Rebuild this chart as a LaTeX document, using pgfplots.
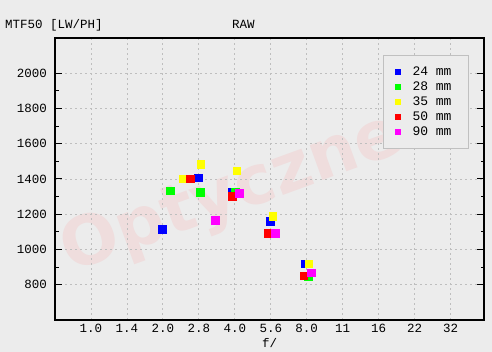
\documentclass[border=0pt]{standalone}
\usepackage{fontspec}
\setmainfont{Liberation Mono}
\newfontfamily\wm{DejaVu Sans}
\usepackage{pgfplots}
\pgfplotsset{compat=1.18}
\definecolor{bg}{RGB}{236,236,236}
\definecolor{wmc}{RGB}{239,221,221}
\definecolor{gridc}{RGB}{190,190,190}
\definecolor{legc}{RGB}{192,192,192}
\definecolor{cblue}{RGB}{0,0,255}
\definecolor{cgreen}{RGB}{0,255,0}
\definecolor{cyellow}{RGB}{255,255,0}
\definecolor{cred}{RGB}{255,0,0}
\definecolor{cmag}{RGB}{255,0,255}
\begin{document}
\begin{tikzpicture}[x=1pt,y=1pt]
\path[use as bounding box, fill=bg] (0,0) rectangle (492,352);
\node[rotate=20, text=wmc, font=\wm\bfseries\fontsize{68}{68}\selectfont] at (232,157) {Optyczne};
\node[anchor=base west, font=\fontsize{12.5}{14}\selectfont, inner sep=0pt] at (5,323) {MTF50 [LW/PH]};
\node[anchor=base west, font=\fontsize{12.5}{14}\selectfont, inner sep=0pt] at (232,323) {RAW};
\begin{axis}[
  at={(55pt,32pt)}, anchor=south west,
  scale only axis, width=429pt, height=282pt,
  xmin=0, xmax=11.93, ymin=600, ymax=2200,
  xtick={1,2,3,4,5,6,7,8,9,10,11},
  xticklabels={1.0,1.4,2.0,2.8,4.0,5.6,8.0,11,16,22,32},
  ytick={800,1000,1200,1400,1600,1800,2000},
  minor y tick num=1,
  grid=major,
  major grid style={gridc, dash pattern=on 2pt off 3pt, line width=0.8pt},
  axis line style={black, line width=1.2pt},
  tick align=inside,
  major tick length=7pt, minor tick length=3.5pt,
  xtick style={draw=none},
  ytick style={black, line width=1pt},
  /pgf/number format/.cd, 1000 sep={}, assume math mode=true, /pgfplots/.cd,
  tick label style={font=\fontsize{12.5}{14}\selectfont},
  xticklabel style={anchor=base, inner sep=0pt, yshift=-12.7pt},
  yticklabel style={anchor=east, inner sep=0pt, xshift=-8pt},
  xlabel={f/},
  xlabel style={at={(axis description cs:0.5,0)}, anchor=base, yshift=-28pt, inner sep=0pt, font=\fontsize{12.5}{14}\selectfont},
  legend cell align=left,
  legend style={at={(axis description cs:0.7646,0.9397)}, anchor=north west,
    draw=legc, line width=0.8pt, fill=bg, inner xsep=11.5pt, inner ysep=12.5pt,
    row sep=7pt, nodes={inner sep=0pt, text height=8pt, text depth=0pt},
    font=\fontsize{13}{15}\selectfont,
    /tikz/every odd column/.append style={column sep=12pt}},
  legend image post style={mark size=2.8pt},
]
\addplot[only marks, mark=square*, mark size=3.7pt, color=cblue] coordinates {(2.98,1115) (3.98,1406) (4.93,1326) (5.98,1161) (6.95,921)};
\addlegendentry{\makebox[44pt][l]{24 mm}}
\addplot[only marks, mark=square*, mark size=3.7pt, color=cgreen] coordinates {(3.20,1332) (4.04,1326) (5.01,1326) (6.01,1092) (7.04,847)};
\addlegendentry{\makebox[44pt][l]{28 mm}}
\addplot[only marks, mark=square*, mark size=3.7pt, color=cyellow] coordinates {(3.56,1400) (4.06,1485) (5.06,1446) (6.06,1189) (7.06,921)};
\addlegendentry{\makebox[44pt][l]{35 mm}}
\addplot[only marks, mark=square*, mark size=3.7pt, color=cred] coordinates {(3.76,1400) (4.93,1303) (5.93,1092) (6.92,853)};
\addlegendentry{\makebox[44pt][l]{50 mm}}
\addplot[only marks, mark=square*, mark size=3.7pt, color=cmag] coordinates {(4.45,1166) (5.12,1320) (6.12,1092) (7.12,870)};
\addlegendentry{\makebox[44pt][l]{90 mm}}
\end{axis}
\end{tikzpicture}
\end{document}
